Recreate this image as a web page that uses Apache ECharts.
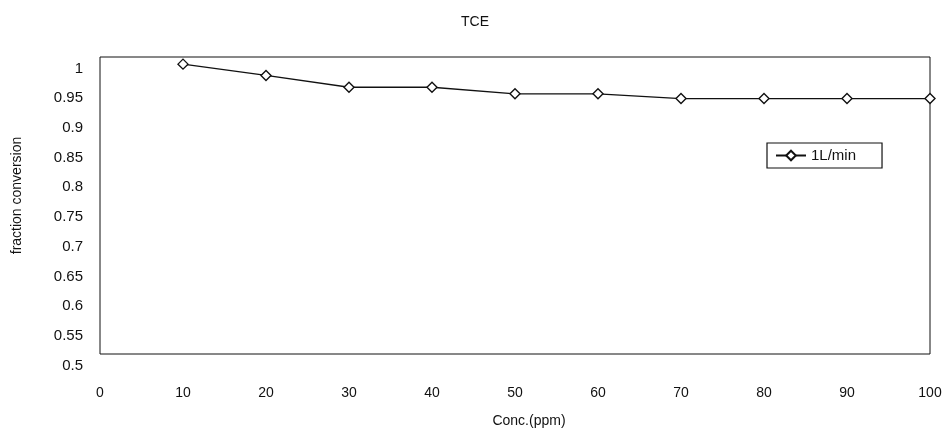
<!DOCTYPE html>
<html>
<head>
<meta charset="utf-8">
<script src="https://cdn.jsdelivr.net/npm/echarts@6/dist/echarts.min.js"></script>
<style>html,body{margin:0;padding:0;background:#fff}#c{width:949px;height:434px}</style>
</head>
<body>
<div id="c"></div>
<script>
const categories = [10, 20, 30, 40, 50, 60, 70, 80, 90, 100];
const flow1 = [0.988, 0.969, 0.949, 0.949, 0.938, 0.938, 0.930, 0.930, 0.930, 0.930];
const seriesName = '1L/min';

const chart = echarts.init(document.getElementById('c'));
const font = 'Liberation Sans, Arial, sans-serif';
chart.setOption({
  animation: false,
  backgroundColor: '#fff',
  title: {
    text: 'TCE', left: 470, top: 10, textAlign: 'center',
    textStyle: {fontFamily: font, fontSize: 14, fontWeight: 'normal', color: '#111'}
  },
  legend: {
    left: 767, top: 143, orient: 'vertical',
    backgroundColor: '#fff', borderColor: '#111', borderWidth: 1.2,
    padding: [5, 26, 5, 8], itemWidth: 30, itemHeight: 12,
    textStyle: {fontFamily: font, fontSize: 15, color: '#111'},
    data: [seriesName]
  },
  grid: {
    left: 100, right: 19, top: 57, bottom: 80,
    show: true, borderColor: '#111', borderWidth: 1
  },
  xAxis: {
    type: 'value', min: 0, max: 100, interval: 10,
    name: 'Conc.(ppm)', nameLocation: 'middle', nameGap: 60,
    nameTextStyle: {fontFamily: font, fontSize: 14, color: '#111', padding: [0, 0, 0, 28]},
    axisLine: {show: false}, axisTick: {show: false}, splitLine: {show: false},
    axisLabel: {margin: 32, fontFamily: font, fontSize: 14, color: '#111'}
  },
  yAxis: {
    type: 'value', min: 0.5, max: 1, interval: 0.05,
    name: 'fraction conversion', nameLocation: 'middle', nameGap: 76,
    nameTextStyle: {fontFamily: font, fontSize: 14, color: '#111', padding: [0, 0, 0, 20]},
    axisLine: {show: false}, axisTick: {show: false}, splitLine: {show: false},
    axisLabel: {
      margin: 17, fontFamily: font, fontSize: 15, color: '#111',
      verticalAlign: 'top', lineHeight: 23,
      formatter: v => String(+v.toFixed(2))
    }
  },
  series: [{
    name: seriesName, type: 'line',
    data: categories.map((c, i) => [c, flow1[i]]),
    symbol: 'diamond', symbolSize: 10,
    lineStyle: {color: '#111', width: 1.4},
    itemStyle: {color: '#fff', borderColor: '#111', borderWidth: 1.4},
    clip: false
  }]
});
</script>
</body>
</html>
